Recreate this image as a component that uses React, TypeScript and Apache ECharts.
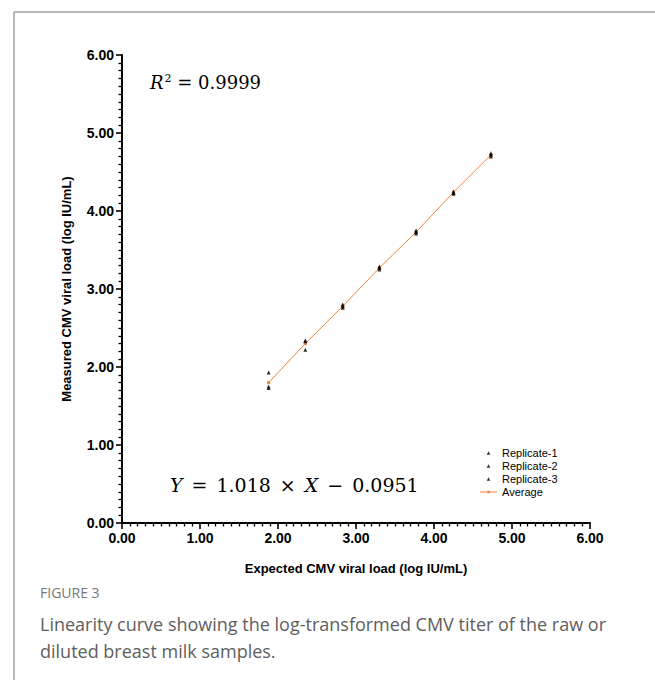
import React, { useEffect, useRef } from "react";
import * as echarts from "echarts";

const expected = [1.88, 2.35, 2.83, 3.3, 3.77, 4.25, 4.73];
const replicate1 = [1.93, 2.34, 2.8, 3.29, 3.75, 4.25, 4.74];
const replicate2 = [1.75, 2.33, 2.78, 3.27, 3.73, 4.23, 4.72];
const replicate3 = [1.73, 2.22, 2.76, 3.25, 3.71, 4.22, 4.7];
const average = [1.8, 2.3, 2.78, 3.27, 3.73, 4.24, 4.72];
const seriesNames = ["Replicate-1", "Replicate-2", "Replicate-3", "Average"];
const xTitle = "Expected CMV viral load (log IU/mL)";
const yTitle = "Measured CMV viral load (log IU/mL)";
const captionLabel = "FIGURE 3";
const captionLines = [
  "Linearity curve showing the log-transformed CMV titer of the raw or",
  "diluted breast milk samples.",
];

const pairs = (ys: number[]) => expected.map((x, i) => [x, ys[i]]);

const triIcon = "path://M0,0 M17,12 M8.5,4.3 L10.3,7.7 L6.7,7.7 Z";
const avgIcon =
  "path://M0,0 M17,12 M0,5.5 L17,5.5 L17,6.5 L0,6.5 Z M7.3,4.7 L9.7,4.7 L9.7,7.3 L7.3,7.3 Z";

export default function App() {
  const ref = useRef<HTMLDivElement>(null);
  useEffect(() => {
    if (!ref.current) return;
    const chart = echarts.init(ref.current, undefined, { renderer: "svg" });
    const axisCommon = {
      min: 0,
      max: 6,
      interval: 1,
      axisLine: { show: true, lineStyle: { color: "#000", width: 2 } },
      axisTick: { show: true, inside: false, length: 6, lineStyle: { color: "#000", width: 1.6 } },
      minorTick: { show: true, splitNumber: 10, length: 3.5, lineStyle: { color: "#000", width: 1.3 } },
      splitLine: { show: false },
      nameLocation: "middle" as const,
      nameTextStyle: { fontFamily: "Liberation Sans", fontWeight: "bold" as const, fontSize: 13, color: "#000" },
    };
    const labelStyle = {
      margin: 8,
      formatter: (v: number) => v.toFixed(2),
      fontFamily: "Liberation Sans",
      fontWeight: "bold" as const,
      fontSize: 14,
      color: "#000",
    };
    const replicateSeries = [replicate1, replicate2, replicate3].map((d, i) => ({
      name: seriesNames[i],
      type: "scatter" as const,
      data: pairs(d),
      symbol: "triangle",
      symbolSize: 4,
      itemStyle: { color: "#000" },
    }));
    chart.setOption({
      animation: false,
      backgroundColor: "#fff",
      grid: { left: 122, top: 55, width: 468, height: 468, containLabel: false },
      xAxis: { ...axisCommon, type: "value", name: xTitle, nameGap: 39, axisLabel: labelStyle },
      yAxis: { ...axisCommon, type: "value", name: yTitle, nameGap: 49, axisLabel: labelStyle },
      legend: {
        orient: "vertical",
        left: 480,
        top: 447,
        itemWidth: 17,
        itemHeight: 12,
        itemGap: 1,
        padding: 0,
        symbolKeepAspect: false,
        data: [
          { name: seriesNames[0], icon: triIcon, itemStyle: { color: "#000", borderWidth: 0 } },
          { name: seriesNames[1], icon: triIcon, itemStyle: { color: "#000", borderWidth: 0 } },
          { name: seriesNames[2], icon: triIcon, itemStyle: { color: "#000", borderWidth: 0 } },
          { name: seriesNames[3], icon: avgIcon, itemStyle: { color: "#f4813b", borderWidth: 0 }, lineStyle: { width: 0 } },
        ],
        textStyle: { fontFamily: "Liberation Sans", fontSize: 11, lineHeight: 12, color: "#000" },
      },
      series: [
        ...replicateSeries,
        {
          name: seriesNames[3],
          type: "line",
          data: pairs(average),
          symbol: "rect",
          symbolSize: 3,
          lineStyle: { color: "#f4813b", width: 1 },
          itemStyle: { color: "#f4813b" },
          z: 1,
        },
      ],
      graphic: [
        { type: "line", shape: { x1: 14, y1: 12, x2: 14, y2: 680 }, style: { stroke: "#a0a0a0", lineWidth: 1.5 } },
        { type: "line", shape: { x1: 14, y1: 12, x2: 655, y2: 12 }, style: { stroke: "#a0a0a0", lineWidth: 1.5 } },
        {
          type: "text",
          left: 150,
          top: 73,
          style: {
            text: "{i|R}{s|2}{n| = 0.9999}",
            rich: {
              i: { fontFamily: "DejaVu Serif", fontStyle: "italic", fontSize: 18, fill: "#000" },
              s: { fontFamily: "DejaVu Serif", fontSize: 11, fill: "#000", verticalAlign: "top", padding: [0, 0, 8, 1] },
              n: { fontFamily: "DejaVu Serif", fontSize: 18, fill: "#000" },
            },
          },
        },
        {
          type: "text",
          left: 170,
          top: 475,
          style: {
            text: "{i|Y}{o|=}{n|1.018}{o|×}{i|X}{o|−}{n|0.0951}",
            rich: {
              i: { fontFamily: "DejaVu Serif", fontStyle: "italic", fontSize: 19, fill: "#000" },
              n: { fontFamily: "DejaVu Serif", fontSize: 19, fill: "#000" },
              o: { fontFamily: "DejaVu Serif", fontSize: 19, fill: "#000", padding: [0, 9, 0, 9] },
            },
          },
        },
        {
          type: "text",
          left: 40,
          top: 585,
          style: { text: captionLabel, fontFamily: "Open Sans", fontSize: 14, fill: "#777" },
        },
        {
          type: "text",
          left: 40,
          top: 610,
          style: {
            text: captionLines.join("\n"),
            fontFamily: "Open Sans",
            fontSize: 18,
            lineHeight: 27,
            fill: "#5e5e5e",
          },
        },
      ],
    });
    return () => chart.dispose();
  }, []);
  return (
    <div
      ref={ref}
      style={{ position: "absolute", left: 0, top: 0, width: 655, height: 680 }}
    />
  );
}
